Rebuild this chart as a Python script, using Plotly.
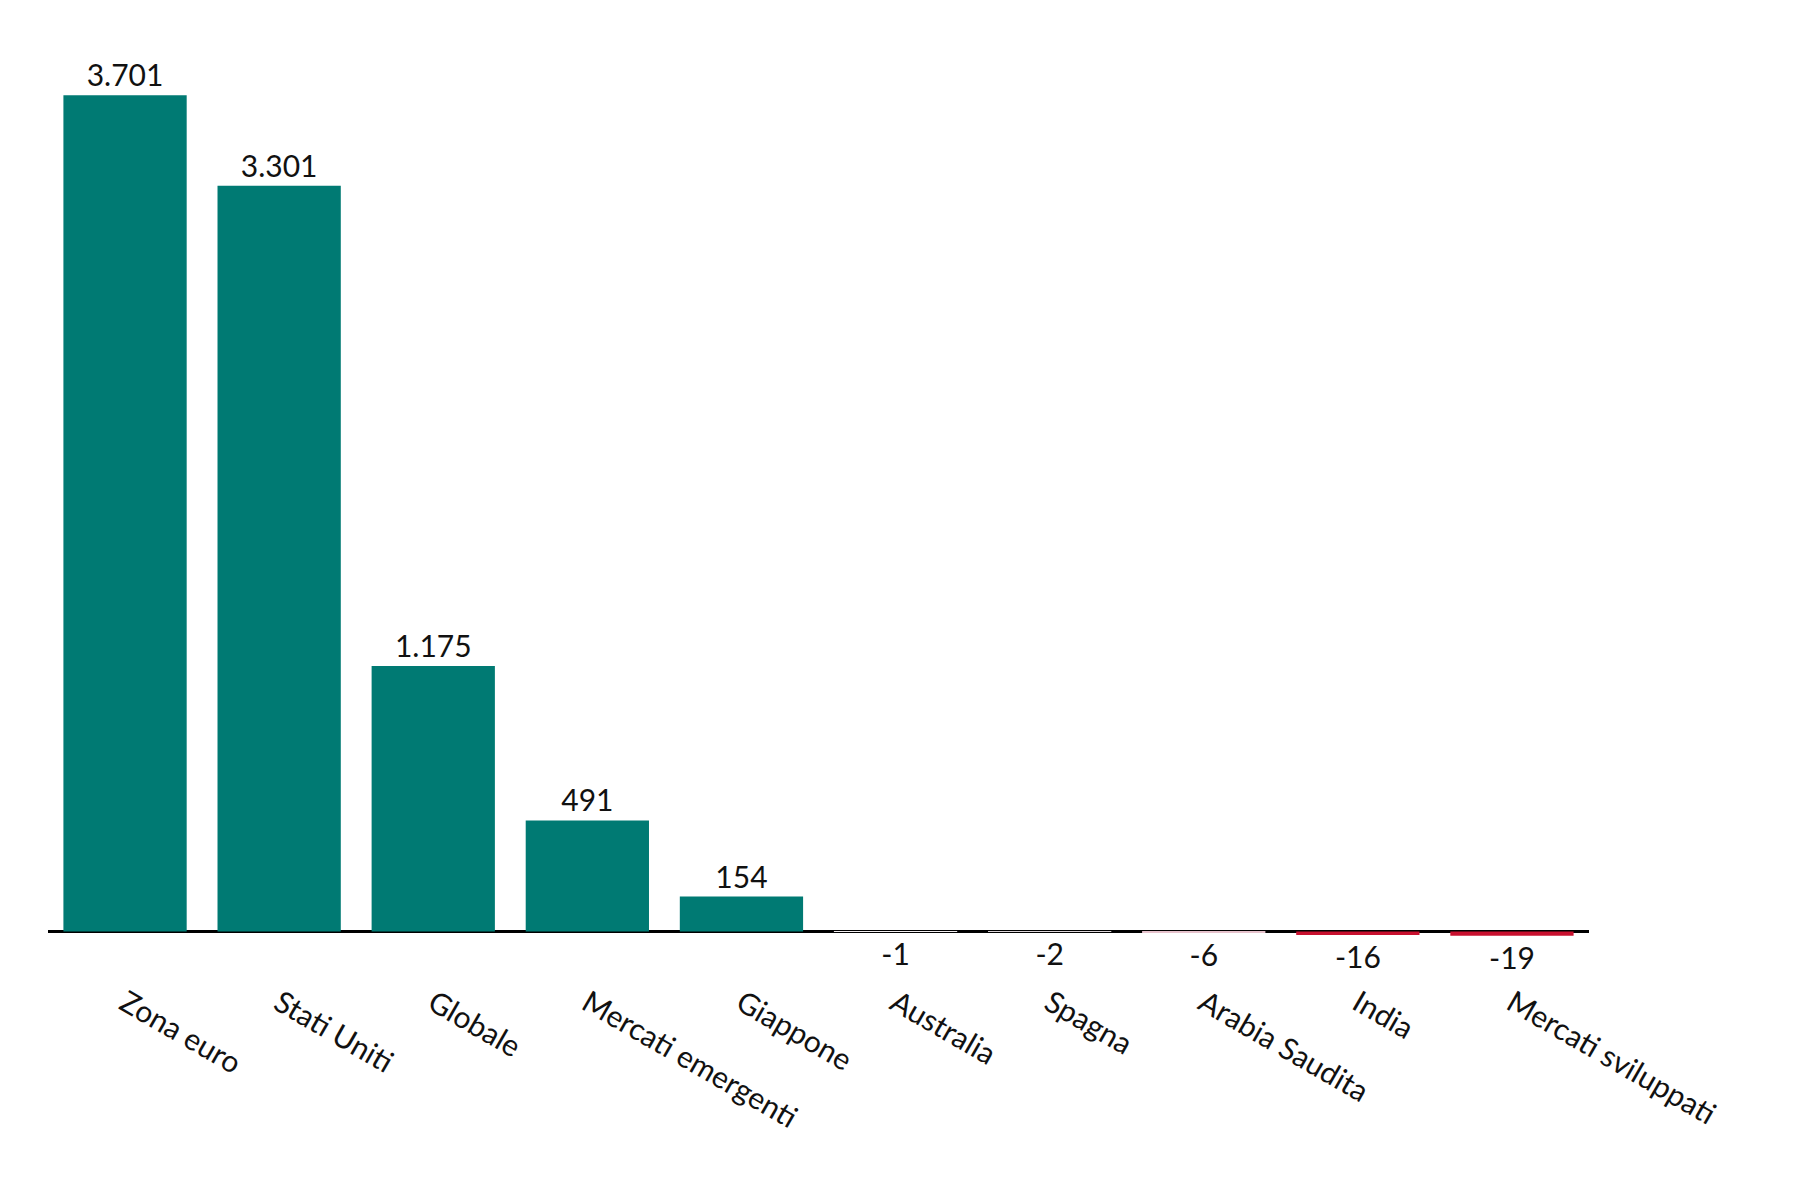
import plotly.graph_objects as go

categories = ["Zona euro", "Stati Uniti", "Globale", "Mercati emergenti", "Giappone",
              "Australia", "Spagna", "Arabia Saudita", "India", "Mercati sviluppati"]
values = [3701, 3301, 1175, 491, 154, -1, -2, -6, -16, -19]
colors = ["#007a73"] * 5 + ["#f4f0f2", "#ddd6da", "#e6c2cc", "#c8102e", "#c8102e"]

fig = go.Figure(go.Bar(
    x=categories, y=values, marker_color=colors, marker_line_width=0,
    width=0.8, text=values, texttemplate="%{y:,}", textposition="outside",
    cliponaxis=False, textfont=dict(size=30, color="#111"),
))

fig.update_layout(
    width=1800, height=1200, plot_bgcolor="white", paper_bgcolor="white",
    margin=dict(l=40, r=219, t=65, b=254),
    separators=",.", showlegend=False,
    font=dict(family="Lato, Noto Sans, sans-serif", size=30, color="#111"),
    uniformtext=dict(mode=None),
)
fig.update_xaxes(range=[-0.5, 9.5], tickangle=30, showline=False, showgrid=False,
                 ticks="", tickfont=dict(size=30), ticklabelstandoff=25)
fig.update_yaxes(range=[-100, 3800], visible=True, showticklabels=False, showgrid=False,
                 zeroline=True, zerolinecolor="black", zerolinewidth=3)

fig.write_html("out.html")
